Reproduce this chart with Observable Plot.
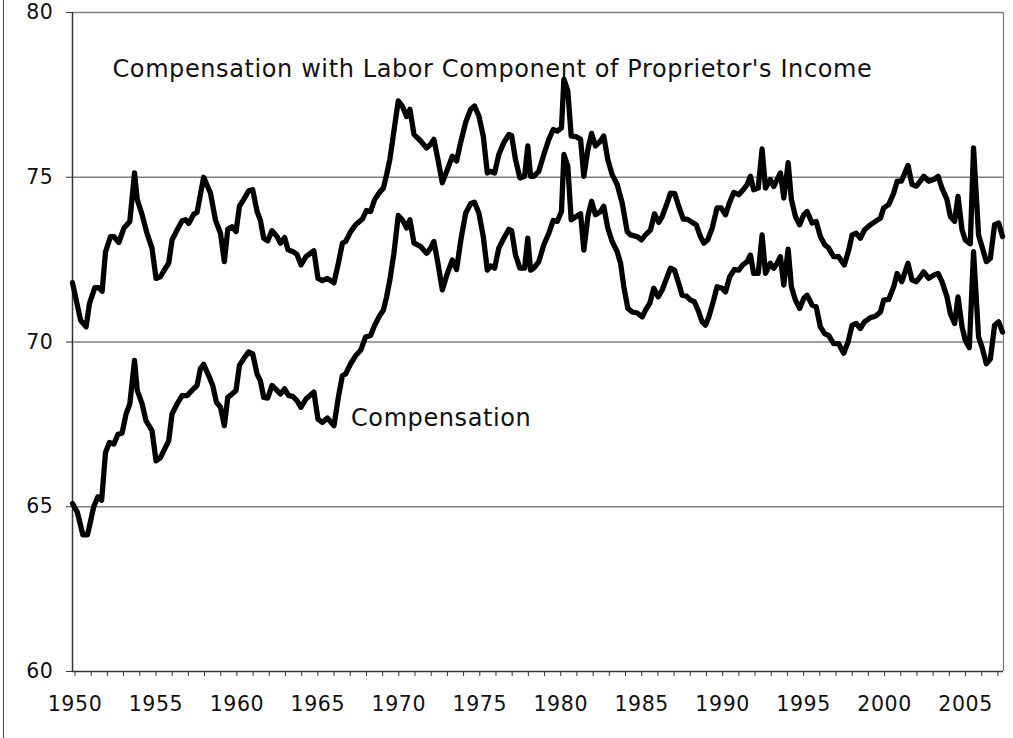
<!DOCTYPE html>
<html>
<head>
<meta charset="utf-8">
<script src="https://cdn.jsdelivr.net/npm/d3@7"></script>
<script src="https://cdn.jsdelivr.net/npm/@observablehq/plot@0.6"></script>
<style>
  html, body { margin: 0; padding: 0; background: #fff; }
  #wrap { position: relative; width: 1013px; height: 738px; overflow: hidden; }
  #border { position: absolute; left: 3px; top: 0; width: 0; height: 738px; border-left: 1.5px solid #444; pointer-events: none; }
</style>
</head>
<body>
<div id="wrap"><div id="border"></div></div>
<script>
// Compensation with Labor Component of Proprietor's Income (quarterly turning points)
const upperYears = [1950.0,1950.5,1950.84,1951.05,1951.38,1951.62,1951.83,1952.04,1952.35,1952.55,1952.86,1953.17,1953.54,1953.83,1954.0,1954.3,1954.6,1954.91,1955.16,1955.43,1955.74,1955.94,1956.15,1956.46,1956.77,1956.98,1957.18,1957.49,1957.69,1958.1,1958.52,1958.83,1959.14,1959.38,1959.59,1959.85,1960.1,1960.31,1960.57,1960.88,1961.13,1961.4,1961.6,1961.81,1962.06,1962.32,1962.63,1962.84,1963.1,1963.31,1963.6,1963.86,1964.11,1964.42,1964.91,1965.16,1965.43,1965.74,1966.15,1966.42,1966.67,1966.87,1967.18,1967.49,1967.9,1968.15,1968.41,1968.66,1968.93,1969.2,1969.4,1969.6,1969.85,1970.12,1970.37,1970.64,1970.84,1971.09,1971.5,1971.87,1972.12,1972.32,1972.57,1972.84,1973.15,1973.46,1973.72,1973.97,1974.28,1974.59,1974.83,1975.1,1975.37,1975.62,1975.82,1976.07,1976.33,1976.64,1976.95,1977.12,1977.36,1977.63,1977.92,1978.12,1978.29,1978.49,1978.8,1979.11,1979.42,1979.69,1979.94,1980.2,1980.35,1980.59,1980.8,1981.11,1981.38,1981.58,1981.83,1982.06,1982.3,1982.61,1982.81,1983.06,1983.33,1983.64,1983.95,1984.26,1984.46,1984.88,1985.14,1985.39,1985.7,1985.94,1986.21,1986.42,1986.73,1986.93,1987.2,1987.44,1987.72,1987.96,1988.27,1988.52,1988.78,1988.99,1989.23,1989.51,1989.81,1990.06,1990.33,1990.57,1990.84,1991.15,1991.42,1991.67,1991.87,1992.07,1992.35,1992.59,1992.8,1993.1,1993.31,1993.52,1993.72,1993.93,1994.2,1994.4,1994.65,1994.91,1995.16,1995.37,1995.68,1995.93,1996.19,1996.46,1996.7,1997.01,1997.32,1997.67,1997.94,1998.15,1998.4,1998.66,1998.91,1999.28,1999.59,1999.9,2000.1,2000.41,2000.72,2000.93,2001.19,2001.6,2001.85,2002.12,2002.36,2002.57,2002.88,2003.19,2003.46,2003.7,2004.01,2004.22,2004.48,2004.69,2004.94,2005.14,2005.45,2005.65,2005.96,2006.17,2006.44,2006.69,2006.95,2007.2,2007.44];
const upperValues = [71.8,70.66,70.46,71.17,71.65,71.65,71.54,72.74,73.2,73.2,73.02,73.45,73.66,75.13,74.32,73.86,73.3,72.85,71.93,71.98,72.24,72.39,73.1,73.4,73.68,73.71,73.6,73.88,73.93,75.0,74.52,73.7,73.3,72.44,73.42,73.5,73.35,74.12,74.32,74.59,74.62,73.96,73.7,73.15,73.07,73.38,73.2,73.0,73.17,72.8,72.75,72.66,72.34,72.59,72.77,71.93,71.86,71.93,71.8,72.39,73.0,73.05,73.35,73.56,73.73,73.99,73.96,74.32,74.52,74.67,75.08,75.54,76.4,77.32,77.16,76.84,77.06,76.3,76.1,75.89,76.0,76.15,75.54,74.83,75.23,75.64,75.49,76.05,76.66,77.06,77.16,76.86,76.25,75.13,75.18,75.13,75.69,76.05,76.3,76.27,75.54,74.98,75.03,75.95,75.03,75.03,75.18,75.69,76.15,76.45,76.4,76.5,77.98,77.62,76.25,76.23,76.15,75.03,75.84,76.33,75.95,76.1,76.25,75.54,75.08,74.78,74.22,73.35,73.25,73.2,73.1,73.25,73.4,73.89,73.63,73.81,74.22,74.52,74.5,74.12,73.73,73.73,73.63,73.56,73.2,73.0,73.1,73.46,74.07,74.07,73.86,74.22,74.54,74.47,74.62,74.78,75.03,74.62,74.67,75.86,74.67,74.93,74.72,74.93,75.13,74.37,75.44,74.32,73.81,73.56,73.86,73.96,73.61,73.66,73.2,72.95,72.85,72.59,72.59,72.34,72.79,73.25,73.3,73.15,73.4,73.56,73.66,73.76,74.07,74.17,74.52,74.88,74.88,75.36,74.78,74.73,74.88,75.03,74.88,74.93,75.03,74.67,74.32,73.81,73.66,74.42,73.4,73.1,72.98,75.89,73.25,72.9,72.44,72.54,73.56,73.61,73.2];

// Compensation
const lowerYears = [1950.0,1950.3,1950.64,1950.93,1951.31,1951.57,1951.8,1952.04,1952.28,1952.55,1952.81,1953.06,1953.31,1953.54,1953.83,1954.0,1954.3,1954.54,1954.91,1955.16,1955.43,1955.74,1955.94,1956.15,1956.46,1956.77,1957.07,1957.38,1957.69,1957.9,1958.1,1958.41,1958.66,1958.89,1959.14,1959.38,1959.59,1959.85,1960.1,1960.31,1960.57,1960.88,1961.13,1961.4,1961.6,1961.81,1962.06,1962.32,1962.63,1962.84,1963.1,1963.35,1963.6,1963.86,1964.11,1964.42,1964.91,1965.16,1965.43,1965.74,1966.15,1966.42,1966.67,1966.87,1967.18,1967.49,1967.8,1968.1,1968.41,1968.66,1968.93,1969.2,1969.4,1969.6,1969.85,1970.12,1970.37,1970.64,1970.84,1971.09,1971.5,1971.87,1972.12,1972.32,1972.57,1972.84,1973.15,1973.46,1973.72,1973.97,1974.28,1974.59,1974.83,1975.1,1975.37,1975.62,1975.82,1976.07,1976.33,1976.64,1976.95,1977.12,1977.36,1977.63,1977.92,1978.12,1978.29,1978.49,1978.8,1979.11,1979.42,1979.69,1979.94,1980.2,1980.35,1980.59,1980.8,1981.11,1981.38,1981.58,1981.83,1982.06,1982.3,1982.61,1982.81,1983.06,1983.33,1983.64,1983.85,1984.05,1984.3,1984.57,1984.88,1985.19,1985.39,1985.65,1985.9,1986.17,1986.42,1986.73,1986.93,1987.18,1987.44,1987.65,1987.92,1988.17,1988.41,1988.68,1988.89,1989.09,1989.3,1989.57,1989.81,1990.12,1990.33,1990.59,1990.88,1991.15,1991.4,1991.67,1991.87,1992.07,1992.35,1992.59,1992.8,1993.1,1993.31,1993.52,1993.72,1993.93,1994.2,1994.4,1994.65,1994.91,1995.16,1995.37,1995.68,1995.93,1996.19,1996.46,1996.7,1997.01,1997.32,1997.63,1997.9,1998.15,1998.4,1998.66,1998.91,1999.28,1999.59,1999.9,2000.1,2000.41,2000.72,2000.93,2001.22,2001.6,2001.85,2002.12,2002.36,2002.57,2002.88,2003.19,2003.46,2003.7,2004.01,2004.22,2004.48,2004.69,2004.94,2005.14,2005.39,2005.65,2005.96,2006.17,2006.44,2006.69,2006.95,2007.2,2007.44];
const lowerValues = [65.1,64.83,64.15,64.15,65.0,65.3,65.2,66.65,66.95,66.9,67.2,67.23,67.82,68.12,69.44,68.53,68.12,67.61,67.31,66.39,66.49,66.8,67.0,67.82,68.12,68.37,68.37,68.53,68.68,69.19,69.32,68.98,68.68,68.17,68.02,67.46,68.32,68.42,68.53,69.29,69.49,69.7,69.64,69.03,68.83,68.32,68.3,68.68,68.53,68.42,68.58,68.37,68.35,68.22,68.02,68.27,68.48,67.66,67.56,67.69,67.46,68.32,68.98,69.03,69.34,69.59,69.75,70.15,70.2,70.51,70.76,70.97,71.37,71.88,72.69,73.84,73.71,73.46,73.71,73.0,72.9,72.69,72.85,73.05,72.39,71.58,72.08,72.49,72.2,73.05,73.91,74.2,74.24,73.91,73.2,72.18,72.31,72.24,72.85,73.15,73.42,73.38,72.64,72.24,72.24,73.15,72.18,72.24,72.44,72.95,73.3,73.69,73.66,73.96,75.69,75.34,73.71,73.81,73.89,72.79,73.81,74.27,73.86,73.96,74.12,73.46,73.05,72.74,72.39,71.68,71.02,70.91,70.88,70.76,70.97,71.17,71.63,71.37,71.58,71.98,72.24,72.18,71.78,71.42,71.39,71.27,71.22,70.91,70.61,70.51,70.76,71.22,71.68,71.63,71.52,71.98,72.2,72.18,72.34,72.44,72.64,72.08,72.08,73.25,72.08,72.39,72.24,72.39,72.59,71.73,72.82,71.68,71.27,71.02,71.32,71.42,71.12,71.07,70.46,70.25,70.2,69.95,69.95,69.66,70.0,70.51,70.56,70.41,70.61,70.74,70.78,70.91,71.27,71.29,71.68,72.08,71.83,72.39,71.88,71.83,71.98,72.13,71.93,72.03,72.08,71.83,71.37,70.86,70.56,71.37,70.46,70.05,69.83,72.74,70.15,69.85,69.34,69.49,70.51,70.61,70.3];

const xTicks = d3.range(1950, 2008);
const yTicks = [60, 65, 70, 75, 80];
const gridValues = [65, 70, 75, 80];

const labelTexts = ["Compensation with Labor Component of Proprietor's Income", "Compensation"];
const labelYears = [1952.47, 1967.2];
const labelValues = [78.29, 67.68];

const upper = upperYears.map((x, i) => ({x, y: upperValues[i]}));
const lower = lowerYears.map((x, i) => ({x, y: lowerValues[i]}));
const labels = labelTexts.map((t, i) => ({t, x: labelYears[i], y: labelValues[i]}));

const chart = Plot.plot({
  width: 1013,
  height: 738,
  marginLeft: 72,
  marginRight: 10,
  marginTop: 12,
  marginBottom: 67,
  style: {fontFamily: "'DejaVu Sans', Verdana, sans-serif", fontSize: "20.5px", color: "#111", background: "transparent", letterSpacing: "0.6px"},
  x: {domain: [1950, 2007.5], label: null},
  y: {domain: [60, 80], label: null},
  marks: [
    Plot.ruleY(gridValues, {stroke: "#808080", strokeWidth: 1.3}),
    Plot.ruleX([2007.5], {stroke: "#808080", strokeWidth: 1.3}),
    Plot.axisY({ticks: yTicks, tickSize: 6, tickPadding: 13, stroke: "#333", tickFormat: d => d}),
    Plot.axisX({ticks: xTicks, tickSize: 5, tickPadding: 20, dx: 2.5, stroke: "#333", tickFormat: d => d % 5 === 0 ? String(d) : ""}),
    Plot.ruleX([1950], {stroke: "#333", strokeWidth: 1.5}),
    Plot.ruleY([60], {stroke: "#333", strokeWidth: 1.5}),
    Plot.line(upper, {x: "x", y: "y", stroke: "#000", strokeWidth: 5.3, strokeLinejoin: "round", curve: "linear"}),
    Plot.line(lower, {x: "x", y: "y", stroke: "#000", strokeWidth: 5.3, strokeLinejoin: "round", curve: "linear"}),
    Plot.text(labels, {x: "x", y: "y", text: "t", textAnchor: "start", fontSize: 24, fill: "#111", style: "letter-spacing:1px"})
  ]
});
document.getElementById("wrap").prepend(chart);
chart.style.position = "absolute";
chart.style.left = "0";
chart.style.top = "0";
</script>
</body>
</html>
